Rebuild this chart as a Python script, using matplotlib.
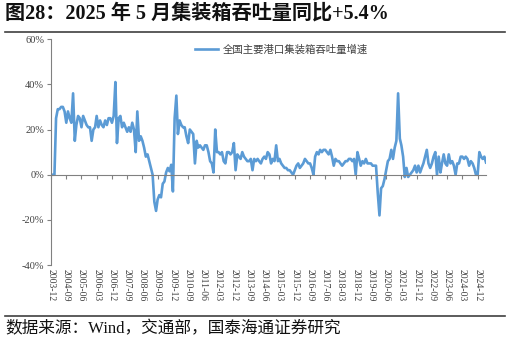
import numpy as np
import pandas as pd
import matplotlib
matplotlib.use("Agg")
import matplotlib.pyplot as plt

# 全国主要港口集装箱吞吐量增速 (%), monthly from 2003-12 to 2025-05
start_month = "2003-12"
growth = (
    [0]
    + [0, 0, 25, 29, 29, 30, 30, 28, 23, 28, 25, 23]          # 2004
    + [36, 15, 22, 26, 25, 21, 26, 24, 22, 21, 21, 15]        # 2005
    + [20, 21, 26, 21, 24, 22, 21, 24, 22, 25, 25, 23]        # 2006
    + [26, 41, 14, 25, 26, 21, 23, 21, 19, 21, 19, 23]        # 2007
    + [20, 10, 28, 15, 17, 15, 12, 8, 9, 6, 3, 0]             # 2008
    + [-12, -16, -11, -9, -10, -4, -3, 1, 3, 1.5, 4.4, -7.4]  # 2009
    + [25, 35, 18, 24, 22, 21, 21, 17, 14, 20, 19, 18]        # 2010
    + [5, 15, 12, 13, 12, 11, 13, 13, 10, 6, 5, 1]            # 2011
    + [20, 10, 10, 9, 10, 6, 5, 10, 10, 9, 10, 14]            # 2012
    + [2, 9, 8, 7, 10, 8, 7, 6, 6, 7, 2, 7]                   # 2013
    + [6, 7, 6, 5, 7, 8, 7, 10, 9, 5, 7, 6]                   # 2014
    + [13, 6, 7, 5, 4, 3, 3, 2, 2, 1, 0, 2]                   # 2015
    + [4, 5, 3, 4, 5, 7, 6, 5, 5, 3, 0, 8]                    # 2016
    + [10, 9, 11, 10, 11, 11, 10, 9, 11, 8, 4, 7]             # 2017
    + [6, 6, 5, 4, 5, 6, 6, 7, 7, 6, 7, 0]                    # 2018
    + [10, 7, 4, 6, 5, 7, 5, 5, 5, 4, 4, 4]                   # 2019
    + [-8, -18, -6, -5, -2, 2, 6, 7, 11, 7, 12, 15]           # 2020
    + [36, 16, 13, 8, -1, 3, -1, 0, 1, 2, 4, 1]               # 2021
    + [4, 1, 3, 5, 8, 11, 5, 3, 5, 8, 10, 0]                  # 2022
    + [8, 1, 5, 9, 5, 4, 9, 5, 6, 4, 0, 5]                    # 2023
    + [5, 8, 8, 7, 8, 7, 4, 6, 5, 3, 0, 0]                    # 2024
    + [10, 8, 7, 8, 5.4]                                      # 2025
)
yticks = [-40, -20, 0, 20, 40, 60]
title = "图28：2025 年 5 月集装箱吞吐量同比+5.4%"
legend_label = "全国主要港口集装箱吞吐量增速"
source = "数据来源：Wind，交通部，国泰海通证券研究"

fonts = ["Liberation Serif", "Noto Sans CJK SC", "DejaVu Sans"]
plt.rcParams["font.family"] = fonts

dates = pd.date_range(start_month, periods=len(growth), freq="MS")
tick_dates = dates[::9]
tick_labels = [d.strftime("%Y-%m") for d in tick_dates]

fig = plt.figure(figsize=(5.10, 3.43), dpi=100)
ax = fig.add_axes([0.1, 0.227, 0.853, 0.659])

ax.plot(dates, growth, color="#5b9bd5", lw=1.9, label=legend_label)
ax.set_xlim(dates[0], dates[-1])
ax.set_ylim(-40, 60)
ax.set_yticks(yticks)
ax.set_yticklabels([f"{v}%" for v in yticks], fontsize=7.5, color="#404040")

for s in ["top", "right"]:
    ax.spines[s].set_visible(False)
ax.spines["left"].set_color("#808080")
ax.spines["left"].set_linewidth(0.8)
ax.spines["bottom"].set_position(("data", 0))
ax.spines["bottom"].set_color("#808080")
ax.spines["bottom"].set_linewidth(0.8)
ax.tick_params(axis="y", length=3, color="#808080", pad=2)
ax.set_xticks(tick_dates)
ax.tick_params(axis="x", length=3, color="#808080", labelbottom=False)

sec = ax.secondary_xaxis("bottom")
sec.set_xticks(tick_dates, tick_labels)
sec.tick_params(axis="x", length=0, pad=3, labelsize=7, labelcolor="#404040",
                labelrotation=-90)
for s in sec.spines.values():
    s.set_visible(False)

leg = ax.legend(loc="upper left", bbox_to_anchor=(0.31, 1.02), frameon=False,
                handlelength=2.2, handletextpad=0.4,
                prop={"family": ["Noto Sans CJK SC"], "size": 7.5})
for t in leg.get_texts():
    t.set_color("#404040")

fig.text(0.01, 0.962, title, fontsize=14.5, fontweight="bold", va="center",
         ha="left", color="#111111")
fig.add_artist(plt.Line2D([0.01, 0.99], [0.907, 0.907], color="#404040", lw=1.2))
fig.add_artist(plt.Line2D([0.01, 0.99], [0.078, 0.078], color="#404040", lw=1.2))
fig.text(0.01, 0.04, source, fontsize=12, va="center", ha="left", color="#111111")

fig.savefig("out.png", dpi=100)
